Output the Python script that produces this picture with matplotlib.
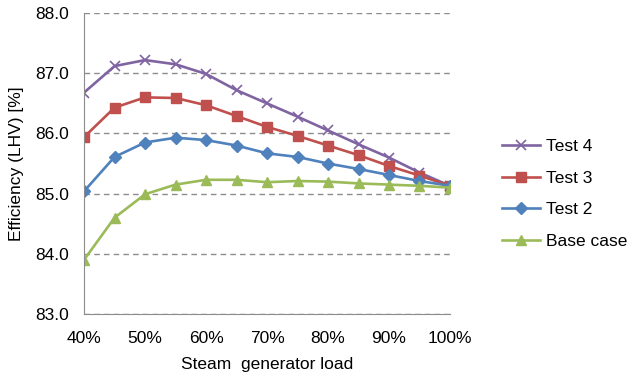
import matplotlib.pyplot as plt
import matplotlib as mpl

mpl.rcParams['font.family'] = ['Liberation Sans', 'DejaVu Sans']
mpl.rcParams['font.size'] = 12.5

# steam generator load [%] and efficiency (LHV) [%] for each case
load = [40, 45, 50, 55, 60, 65, 70, 75, 80, 85, 90, 95, 100]
test4 = [86.68, 87.12, 87.22, 87.15, 86.99, 86.72, 86.50, 86.28, 86.05, 85.82, 85.60, 85.35, 85.13]
test3 = [85.94, 86.43, 86.60, 86.59, 86.47, 86.29, 86.11, 85.96, 85.80, 85.64, 85.46, 85.30, 85.13]
test2 = [85.04, 85.61, 85.85, 85.93, 85.89, 85.80, 85.67, 85.61, 85.50, 85.41, 85.31, 85.21, 85.13]
base = [83.90, 84.60, 84.99, 85.15, 85.23, 85.23, 85.19, 85.21, 85.20, 85.17, 85.15, 85.13, 85.10]

fig = plt.figure(figsize=(6.32, 3.76), dpi=100)
ax = fig.add_axes([0.133, 0.165, 0.579, 0.8])

ax.plot(load, test4, color='#8064A2', marker='x', markersize=7, markeredgewidth=1.2, linewidth=1.9, label='Test 4')
ax.plot(load, test3, color='#C0504D', marker='s', markersize=7, linewidth=1.9, label='Test 3')
ax.plot(load, test2, color='#4F81BD', marker='D', markersize=6, linewidth=1.9, label='Test 2')
ax.plot(load, base, color='#9BBB59', marker='^', markersize=7, linewidth=1.9, label='Base case')

ax.set_xlim(40, 100)
ax.set_ylim(83, 88)
ax.set_xticks(range(40, 101, 10))
ax.set_xticklabels([f'{v}%' for v in range(40, 101, 10)])
ax.set_yticks(range(83, 89))
ax.set_yticklabels([f'{v:.1f}' for v in range(83, 89)])
ax.tick_params(axis='y', length=0, pad=11)
ax.tick_params(axis='x', length=0, pad=12)

ax.grid(axis='y', color='#8c8c8c', linestyle=(0, (4, 3)), linewidth=1)
ax.set_axisbelow(True)
for side in ['top', 'right']:
    ax.spines[side].set_visible(False)
for side in ['left', 'bottom']:
    ax.spines[side].set_color('#8c8c8c')

ax.set_xlabel('Steam  generator load', labelpad=8)
ax.set_ylabel('Efficiency (LHV) [%]', labelpad=8)

fig.legend(loc='center left', bbox_to_anchor=(502 / 632, 0.484), frameon=False,
           borderpad=0, borderaxespad=0,
           handlelength=2.2, handletextpad=0.35, labelspacing=0.95)

fig.savefig('out.png', dpi=100)
